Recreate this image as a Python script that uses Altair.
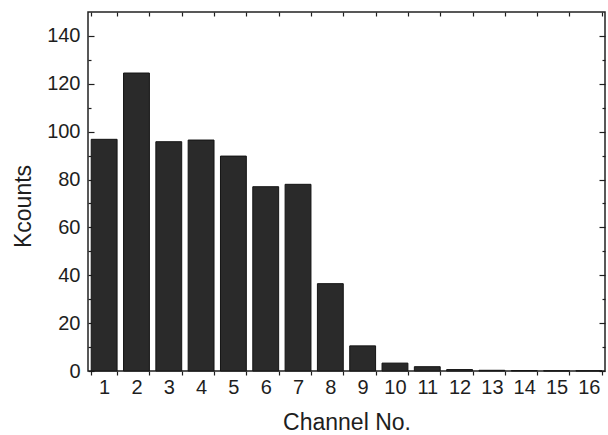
import altair as alt
import pandas as pd

channels = list(range(1, 17))
kcounts = [96.8, 124.5, 95.8, 96.5, 89.8, 77.0, 78.0, 36.5, 10.5, 3.3, 1.8, 0.6, 0.3, 0.2, 0.1, 0.1]
major_ticks = [0, 20, 40, 60, 80, 100, 120, 140]
minor_ticks = [10, 30, 50, 70, 90, 110, 130]
channel_labels = [str(c) for c in channels]

df = pd.DataFrame({"channel": channel_labels, "kcounts": kcounts})

W, H = 517, 359
FONT = "Liberation Sans"
TXT = "#1e1e1e"

xscale = alt.Scale(paddingInner=0.2, paddingOuter=0.1)
yscale = alt.Scale(domain=[0, 150], nice=False, zero=True)

base = alt.Chart(df)

# main bars with labelled axes
main = base.mark_bar(fill="#2a2a2a", stroke="#141414", strokeWidth=1).encode(
    x=alt.X("channel:O", sort=channel_labels, scale=xscale,
            axis=alt.Axis(orient="bottom", title="Channel No.", labelAngle=0, grid=False,
                          tickBand="extent", tickSize=4, tickColor=TXT, tickWidth=1.2,
                          domain=False, labelPadding=2, titlePadding=14,
                          labelFontSize=20, titleFontSize=23,
                          labelFont=FONT, titleFont=FONT,
                          labelColor=TXT, titleColor=TXT, titleFontWeight="normal")),
    y=alt.Y("kcounts:Q", scale=yscale,
            axis=alt.Axis(orient="left", title="Kcounts", values=major_ticks, grid=False,
                          ticks=False, domain=False, labelPadding=8, titlePadding=11,
                          titleY=194,
                          labelFontSize=20, titleFontSize=23,
                          labelFont=FONT, titleFont=FONT,
                          labelColor=TXT, titleColor=TXT, titleFontWeight="normal")),
)

def tick_layer(yorient, yvals, ysize, xaxis=None):
    enc_x = alt.X("channel:O", sort=channel_labels, scale=xscale,
                  axis=xaxis if xaxis is not None else None)
    return base.mark_bar(opacity=0).encode(
        x=enc_x,
        y=alt.Y("kcounts:Q", scale=yscale,
                axis=alt.Axis(orient=yorient, offset=-W, values=yvals, tickSize=ysize,
                              grid=False, labels=False, domain=False, title=None,
                              tickColor=TXT, tickWidth=1.2)),
    )

top_axis = alt.Axis(orient="bottom", offset=-H, tickBand="extent", tickSize=4, grid=False,
                    labels=False, domain=False, title=None, tickColor=TXT, tickWidth=1.2)

layer_b = tick_layer("right", major_ticks, 6, top_axis)   # left side inward major
layer_c = tick_layer("right", minor_ticks, 3)             # left side inward minor
layer_d = tick_layer("left", major_ticks, 6)              # right side inward major
layer_e = tick_layer("left", minor_ticks, 3)              # right side inward minor

chart = alt.layer(main, layer_b, layer_c, layer_d, layer_e).resolve_scale(
    x="shared", y="shared"
).resolve_axis(
    x="independent", y="independent"
).properties(
    width=W, height=H,
    autosize=alt.AutoSizeParams(type="none"),
    padding={"left": 88, "top": 12, "right": 3, "bottom": 64},
    background="white",
).configure_view(
    stroke="#222222", strokeWidth=1.5
).configure_axis(
    grid=False
)

chart.save("out.html", embed_options={"renderer": "svg", "actions": False})
